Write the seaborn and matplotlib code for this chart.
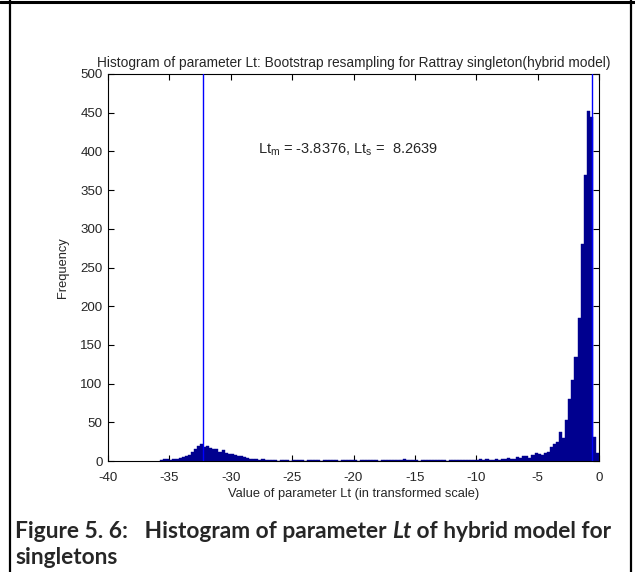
import numpy as np
import pandas as pd
import matplotlib
matplotlib.use("Agg")
import matplotlib.pyplot as plt
import seaborn as sns

# ---------------- data ----------------
bin_start = -35.75
bin_width = 0.25

left_bump_counts = [1, 2, 2, 1, 2, 3, 4, 5, 7, 8, 12, 15, 19, 22, 18, 19, 17, 15,
                    16, 12, 14, 10, 9, 9, 8, 7, 6, 5, 4, 3, 2, 2, 1, 3, 1, 1]   # -35.75 .. -26.75
flat_counts = [1, 1, 0, 1, 1, 1, 0, 1, 1, 1, 1, 0, 1, 1, 1, 1, 0, 1, 1, 1,
               1, 1, 0, 1, 1, 1, 1, 1, 0, 1, 1, 1, 1, 1, 1, 0, 1, 1, 1, 1,
               1, 1, 1, 2, 1, 1, 1, 1, 0, 1, 1, 1, 1, 1, 1, 1, 1, 0, 1, 1,
               1, 1, 1, 1, 1, 1, 1]                                           # -26.75 .. -10
tail_counts = [1, 2, 1, 2, 1, 1, 2, 1, 2, 2, 4, 3, 2, 5, 4, 6, 6, 4, 8, 10]      # -10 .. -5
peak_counts = [9, 8, 10, 12, 18, 22, 24, 37, 30, 53, 80, 105, 135, 185, 280,
               370, 452, 445, 31, 10]                                         # -5 .. 0

counts = left_bump_counts + flat_counts + tail_counts + peak_counts
n_bins = len(counts)
bin_end = bin_start + bin_width * n_bins
centers = bin_start + bin_width * (np.arange(n_bins) + 0.5)
df = pd.DataFrame({"value": centers, "count": np.array(counts, dtype=float)})

vline_positions = [-32.3, -0.53]
x_ticks = [-40, -35, -30, -25, -20, -15, -10, -5, 0]
y_ticks = [0, 50, 100, 150, 200, 250, 300, 350, 400, 450, 500]

title = "Histogram of parameter Lt: Bootstrap resampling for Rattray singleton(hybrid model)"
x_label = "Value of parameter Lt (in transformed scale)"
y_label = "Frequency"
stats_text = r"Lt$_{\mathrm{m}}$ = -3.8376, Lt$_{\mathrm{s}}$ =  8.2639"
caption_1 = "Figure 5. 6:   Histogram of parameter "
caption_lt = "Lt"
caption_2 = " of hybrid model for"
caption_3 = "singletons"

# ---------------- style ----------------
sns.set_style("ticks")
plt.rcParams["font.family"] = ["Liberation Sans", "DejaVu Sans"]
plt.rcParams["mathtext.fontset"] = "custom"
plt.rcParams["mathtext.rm"] = "Liberation Sans"
plt.rcParams["mathtext.it"] = "Liberation Sans:italic"

navy = "#00008F"

fig = plt.figure(figsize=(6.35, 5.72), dpi=100)
fig.patch.set_facecolor("white")
ax = fig.add_axes([108 / 635, 1 - 461 / 572, (599 - 108) / 635, (461 - 74) / 572])

sns.histplot(data=df, x="value", weights="count", binwidth=bin_width,
             binrange=(bin_start, bin_end), ax=ax,
             color=navy, alpha=1, edgecolor=navy, linewidth=0.3, element="bars")

for xv in vline_positions:
    ax.axvline(xv, color="#0000FF", linewidth=1.0, zorder=5)

ax.set_xlim(-40, 0)
ax.set_ylim(0, 500)
ax.set_xticks(x_ticks)
ax.set_xticklabels([str(t) for t in x_ticks])
ax.set_yticks(y_ticks)
ax.set_yticklabels([str(t) for t in y_ticks])
ax.tick_params(direction="in", length=4, width=0.8, top=True, right=True,
               labelsize=9.6, color="black")
ax.tick_params(axis="x", pad=8)
ax.tick_params(axis="y", pad=4)
for s in ax.spines.values():
    s.set_visible(True)
    s.set_linewidth(0.8)
    s.set_color("black")

ax.set_title(title, fontsize=9.9, pad=5)
ax.set_xlabel(x_label, fontsize=9.3, labelpad=3)
ax.set_ylabel(y_label, fontsize=9.3, labelpad=8)

ax.text(-27.8, 402, stats_text, fontsize=10.5, va="center", ha="left")

# caption (bold, Calibri-like)
cap_font = ["Lato", "DejaVu Sans"]
cap_size = 16.4
t1 = fig.text(15 / 635, 1 - 531 / 572, caption_1, fontsize=cap_size, fontweight="bold",
              family=cap_font, va="center", ha="left")
fig.canvas.draw()
r = fig.canvas.get_renderer()
bb = t1.get_window_extent(r)
t2 = fig.text(bb.x1 / fig.bbox.width, 1 - 531 / 572, caption_lt, fontsize=cap_size,
              fontweight="bold", style="italic", family=cap_font, va="center", ha="left")
bb2 = t2.get_window_extent(r)
fig.text(bb2.x1 / fig.bbox.width, 1 - 531 / 572, caption_2, fontsize=cap_size,
         fontweight="bold", family=cap_font, va="center", ha="left")
fig.text(15 / 635, 1 - 558 / 572, caption_3, fontsize=cap_size, fontweight="bold",
         family=cap_font, va="center", ha="left")

# outer frame
fig.add_artist(plt.Line2D([0, 1], [1 - 1.5 / 572, 1 - 1.5 / 572], color="black",
                          linewidth=2.2, transform=fig.transFigure))
fig.add_artist(plt.Line2D([10 / 635, 10 / 635], [0, 1], color="black",
                          linewidth=1.6, transform=fig.transFigure))
fig.add_artist(plt.Line2D([631 / 635, 631 / 635], [0, 1], color="black",
                          linewidth=1.6, transform=fig.transFigure))

fig.savefig("out.png", dpi=100, facecolor="white")
